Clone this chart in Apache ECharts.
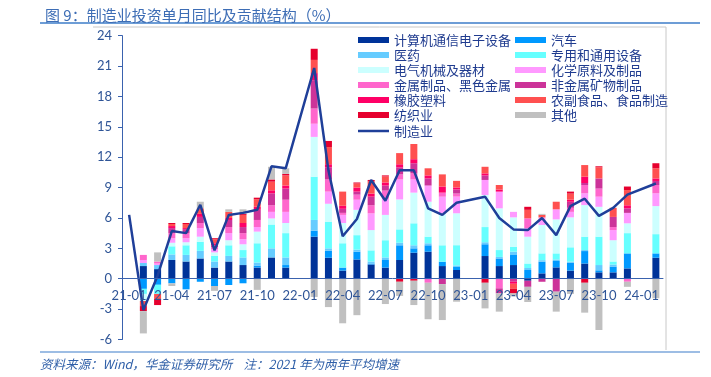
<!DOCTYPE html>
<html><head><meta charset="utf-8">
<script src="https://cdn.jsdelivr.net/npm/echarts@6/dist/echarts.min.js"></script>
<style>html,body{margin:0;padding:0;background:#fff}#c{width:711px;height:377px}</style>
</head><body><div id="c"></div>
<script>
const categories = ['21-01','21-02','21-03','21-04','21-05','21-06','21-07','21-08','21-09','21-10','21-11','21-12',
'22-01','22-02','22-03','22-04','22-05','22-06','22-07','22-08','22-09','22-10','22-11','22-12',
'23-01','23-02','23-03','23-04','23-05','23-06','23-07','23-08','23-09','23-10','23-11','23-12','24-01','24-02'];
const yTicks = {min:-6, max:24, interval:3};
const cs = [null,1.25,0.95,1.85,1.7,2.0,1.1,1.7,1.35,1.1,2.1,1.1,null,4.15,2.07,0.8,1.9,1.4,1.1,1.85,2.57,2.67,1.25,0.86,null,2.24,1.25,1.35,-0.2,0.53,1.12,0.8,1.5,0.63,0.63,1.02,null,2.07];
const qc = [null,-1.0,-0.6,-0.46,-1.05,-0.3,-0.72,-0.62,-0.45,0.2,0,0.25,null,0.6,0.7,0.3,0.77,0.1,0.75,1.45,0.43,0.63,0.43,0.3,null,1.16,0.75,0.99,0.86,1.15,0.63,0.78,1.23,0.2,0.57,1.48,null,0.43];
const yy = [null,0.3,0.4,0.55,0.65,0.75,0.6,0.55,0.75,0.3,0.9,0.75,null,1.05,0.23,0,0.2,0.2,0.25,0.25,0.3,0.2,0,0.15,null,0.2,0.15,0.33,0.2,0.15,0.15,0.1,0.1,0.52,0.2,0,null,0];
const zy = [null,-0.5,-0.9,0.8,0.95,0.9,0.55,1.05,0.73,1.9,2.35,2.4,null,4.27,2.6,2.4,1.43,1.1,1.7,1.32,2.17,0.65,1.62,2.0,null,1.5,0.68,0.49,0.44,0.67,0.6,1.42,1.32,2.8,0.3,2.0,null,1.9];
const dq = [null,-0.7,0,0.35,0.3,0.5,0.35,0.5,0.57,1.15,0.6,1.0,null,3.93,1.8,2.0,2.5,2.0,2.5,2.96,3.03,3.45,3.15,3.15,null,3.16,4.12,2.9,2.65,2.8,3.36,2.96,3.12,2.95,2.1,0.97,null,2.77];
const hx = [null,0.3,0.15,0.45,0.4,0.85,0.3,0.7,0.5,0.45,0.65,1.1,null,1.3,1.2,0.8,1.0,1.65,1.6,1.97,1.3,1.6,1.65,1.65,null,1.49,1.65,0.54,0.85,0.75,0.99,0.54,1.16,1.0,1.0,1.03,null,1.26];
const js = [null,0.5,0.2,0.5,0.5,0.5,0.2,0.6,0.6,0.7,0.65,1.2,null,1.5,1.2,0.2,0.5,0.8,0.8,0.5,0.6,-0.4,0.4,0.3,null,0,-0.95,0,0.96,0,0,0.4,0.82,0.8,0.3,-0.3,null,0.82];
const fj = [null,0,0,0.5,0.4,0.6,0.2,0.7,0.6,1.0,1.18,1.1,null,2.8,1.2,0.4,0.3,0.85,0.5,0.7,1.0,0.7,-0.53,0.4,null,0.45,-0.5,-0.3,-0.6,-0.3,-1.28,0.6,0.2,1.0,1.0,0.45,null,0.4];
const xj = [null,0,0,0.2,0.1,0.3,0.2,0.2,0.4,0.3,0.3,0.3,null,0.7,0.3,0.3,0.4,0.3,0.3,0.3,0.4,0.3,0.6,0.2,null,0.2,0.2,-0.2,0,0,0,0.2,0.62,0,0,0.3,null,0.25];
const nf = [null,-0.5,-0.5,0.2,0.4,0.55,0.4,0.6,0.8,0.75,0.85,1.0,null,1.3,1.7,1.4,0.4,1.2,0.6,1.1,1.5,0.7,1.2,0.65,null,0.65,0.45,-0.5,0.84,0.25,0.75,0.6,1.15,1.1,0.9,1.5,null,1.0];
const fz = [null,-0.5,-0.6,0.1,0.1,0,0.1,0,0.1,0.15,0.22,0.15,null,1.1,0.6,0,0.1,0.15,0.1,-0.3,-0.2,0,0,0,null,-0.4,0,-0.45,0.3,0,0,0.2,-0.4,0.1,0,0.35,null,0.5];
const qt = [null,-2.2,0.9,-0.26,0,0.65,-0.48,0.25,0.45,-1.1,1.25,0.55,null,-1.8,-2.8,-4.4,-3.6,0,-2.5,-1.4,-2.4,-3.6,-3.55,-2.27,null,-2.53,-1.8,-0.3,-1.5,0.1,-1.97,-1.5,-2.95,-5.06,0,-0.5,null,-1.93];
const total = [6.3,-3.1,0.3,4.7,4.5,7.3,2.8,6.3,6.5,6.8,11.1,10.9,null,20.8,10.7,4.2,5.9,9.75,7.7,10.7,10.7,6.95,6.3,7.5,null,8.1,6.0,4.87,4.8,6.0,4.3,7.17,7.9,6.2,7.0,8.3,null,9.4];

const barSeries = [
  ['计算机通信电子设备', cs, '#003399'],
  ['汽车', qc, '#0099FF'],
  ['医药', yy, '#66CCFF'],
  ['专用和通用设备', zy, '#66FFFF'],
  ['电气机械及器材', dq, '#CCFFFF'],
  ['化学原料及制品', hx, '#FF99FF'],
  ['金属制品、黑色金属', js, '#FF66CC'],
  ['非金属矿物制品', fj, '#CC3399'],
  ['橡胶塑料', xj, '#FF0066'],
  ['农副食品、食品制造', nf, '#FF5050'],
  ['纺织业', fz, '#E6002E'],
  ['其他', qt, '#C0C0C0']
];
const lineName = '制造业';
const lineColor = '#1F3F99';

const series = barSeries.map(([name, data, color]) => ({
  name, type: 'bar', stack: 'all', data, barWidth: 7,
  itemStyle: {color}, emphasis: {disabled: true}
}));
series.push({
  name: lineName, type: 'line', data: total, connectNulls: true, symbol: 'none', showSymbol: false,
  lineStyle: {color: lineColor, width: 2.5}, itemStyle: {color: lineColor}, z: 5
});

const leftItems = [0,2,4,6,8,10].map(i => ({name: barSeries[i][0], icon: 'rect'}));
const rightItems = [1,3,5,7,9,11].map(i => ({name: barSeries[i][0], icon: 'rect'}));
const legendText = {color: '#1F3B8F', fontSize: 13, fontFamily: 'Noto Sans CJK SC', lineHeight: 14};
const legendBase = {orient: 'vertical', top: 33, itemWidth: 31, itemHeight: 6, itemGap: 1, textStyle: legendText, padding: 0, selectedMode: false};

// plot geometry: y=-6 at bottom edge (339.5), y=0 at 278.7
const zeroOffset = -(339.5 - 278.7);

const chart = echarts.init(document.getElementById('c'));
chart.setOption({
  animation: false,
  backgroundColor: '#fff',
  title: {text: '图 9：制造业投资单月同比及贡献结构（%）', left: 40, top: 3,
    textStyle: {fontSize: 15, fontWeight: 'normal', color: '#3D6DB5', fontFamily: 'Noto Sans CJK SC'}},
  legend: [
    Object.assign({}, legendBase, {left: 358, data: leftItems}),
    Object.assign({}, legendBase, {left: 515, data: rightItems}),
    Object.assign({}, legendBase, {left: 358, top: 124, itemHeight: 2.5,
      data: [{name: lineName, icon: 'rect', itemStyle: {color: lineColor}}]})
  ],
  grid: {left: 122, right: 48, top: 35.6, bottom: 37.5},
  xAxis: {type: 'category', data: categories, boundaryGap: true, position: 'bottom', offset: zeroOffset, z: 10,
    axisLine: {onZero: false, lineStyle: {color: '#3A62AE', width: 1}},
    axisTick: {interval: 0, length: 4, lineStyle: {color: '#3A62AE'}},
    axisLabel: {interval: 2, margin: 11, color: '#2F5597', fontSize: 13, fontFamily: 'Lato'}},
  yAxis: {type: 'value', min: yTicks.min, max: yTicks.max, interval: yTicks.interval,
    axisLine: {show: true, lineStyle: {color: '#3A62AE'}},
    axisTick: {show: true, length: 4, lineStyle: {color: '#3A62AE'}},
    splitLine: {show: false},
    axisLabel: {margin: 10, color: '#2F5597', fontSize: 13, fontFamily: 'Lato'}},
  graphic: [
    {type: 'line', shape: {x1: 40, y1: 23, x2: 700, y2: 23}, style: {stroke: '#3D7CC9', lineWidth: 1.5}},
    {type: 'polyline', shape: {points: [[93, 27], [666, 27], [666, 350]]}, style: {stroke: '#C8C8C8', lineWidth: 1, fill: null}},
    {type: 'line', shape: {x1: 40, y1: 352, x2: 700, y2: 352}, style: {stroke: '#3D7CC9', lineWidth: 1.2}},
    {type: 'text', left: 40, top: 358, style: {text: '资料来源：Wind，华金证券研究所    注：2021 年为两年平均增速',
      fill: '#2F5FA8', fontSize: 12.5, fontStyle: 'italic', fontFamily: 'Noto Sans CJK SC'}}
  ],
  series
});
</script></body></html>
